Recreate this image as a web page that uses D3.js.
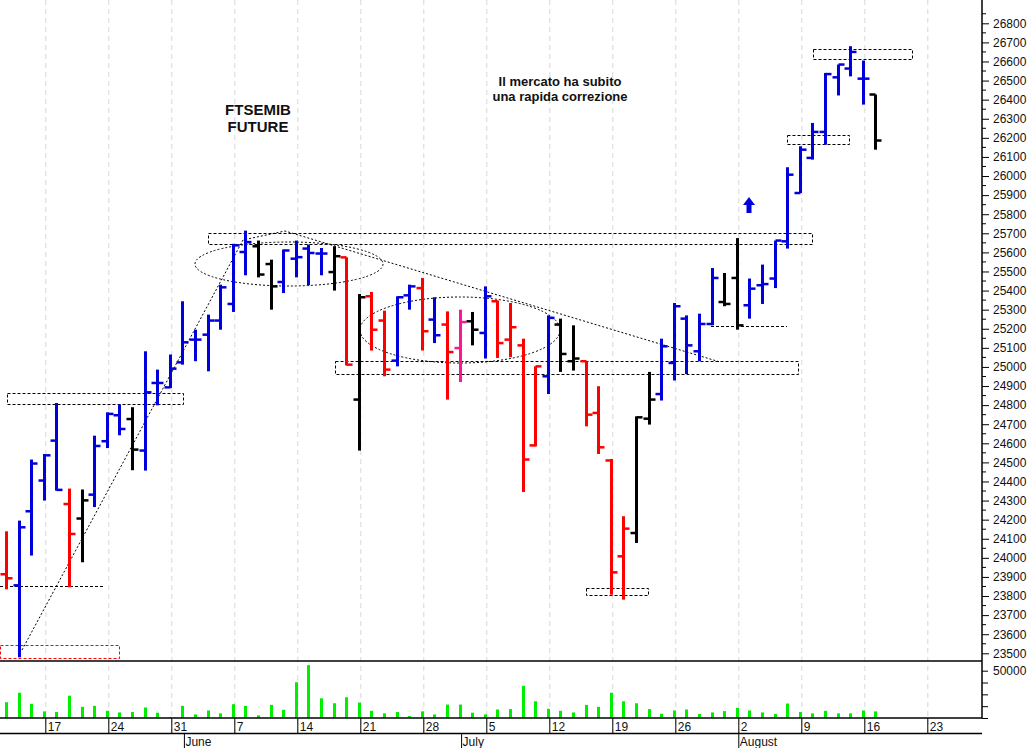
<!DOCTYPE html>
<html><head><meta charset="utf-8">
<script src="https://cdn.jsdelivr.net/npm/d3@7/dist/d3.min.js"></script>
<style>body{margin:0;background:#fff}svg{display:block}</style>
</head><body>
<svg id="c" width="1030" height="748"></svg>
<script>
const opens  = [23914,23856,24244,24405,24614,24282,24206,24331,24611,24747,24727,24562,24916,24893,25024,25143,25169,25243,25330,25602,25632,25539,25445,25567,25620,25594,25497,25574,24829,25370,25243,25033,25375,25413,25248,25222,25099,25239,25178,25344,25143,25113,24589,24951,25222,25030,25030,24759,24510,24008,24130,24729,24858,25021,25253,25082,25225,25340,25466,25323,25428,25463,25658,25911,26095,26231,26517,26563,26510,26427];
const highs  = [24139,24195,24515,24544,24811,24363,24358,24640,24762,24803,24789,25082,24986,25065,25344,25195,25274,25431,25645,25714,25662,25562,25615,25662,25641,25623,25632,25574,25382,25393,25295,25370,25431,25466,25365,25291,25300,25288,25422,25348,25335,25148,25003,25270,25253,25218,25030,24899,24518,24218,24741,24974,25148,25335,25270,25279,25518,25492,25675,25463,25536,25662,26046,26156,26278,26540,26584,26680,26605,26427];
const lows   = [23835,23479,24012,24300,24352,23846,23977,24266,24575,24642,24459,24457,24799,24890,25012,25030,24977,25195,25288,25480,25469,25300,25387,25469,25428,25480,25400,25008,24562,25086,24951,25003,25300,25086,25125,24829,24921,25113,25044,25047,25051,24345,24584,24858,24974,24981,24689,24544,23807,23781,24078,24698,24824,24929,24963,25030,25218,25318,25195,25253,25330,25413,25620,25911,26086,26164,26422,26522,26374,26138];
const closes = [23893,24160,24494,24537,24356,24125,24301,24586,24754,24675,24567,24867,24916,24991,25129,25143,25243,25417,25637,25654,25484,25422,25610,25575,25597,25594,25580,25012,25365,25195,24986,25365,25422,25187,25166,25078,25235,25195,25370,25125,25208,24515,25003,25257,25068,25044,24750,24579,23924,24153,24736,24829,25108,25318,25113,25225,25466,25330,25218,25410,25434,25662,26007,26138,26231,26534,26584,26650,26510,26186];
const signals = ["down","up","up","up","up","down","neutral","up","up","up","neutral",
  "up","up","up","up","up","up","up","up","up","neutral","neutral","up","up","up","up",
  "neutral","down","neutral","down","down","up","up","down","up","down","pink","neutral","up",
  "down","down","down","down","up","neutral","neutral","down","down","down","down",
  "neutral","neutral","up","up","up","up","up","neutral","neutral",
  "up","up","up","up","up","up","up","up","up","up","neutral"];
const volumes = [16700,26700,15000,7000,6300,23600,11800,12800,7600,5900,6300,11100,5600,700,12800,3800,8000,4900,14600,12800,2800,13900,8700,37800,55900,20800,15600,21900,16300,7600,4900,6300,2100,7000,3800,14200,14200,5600,3800,9000,9400,34000,17700,9700,7600,5900,13900,11800,26700,17700,15600,9400,4500,8000,9000,4200,5900,7300,10800,8000,5900,4200,15300,6300,4900,7600,4900,4900,8000,7000];
const weekLabels = ["17","24","31","7","14","21","28","5","12","19","26","2","9","16","23"];
const weekIdx    = [3,8,13,18,23,28,33,38,43,48,53,58,63,68,73];
const monthLabels = ["June","July","August"];
const monthIdx    = [14,36,58];
const priceTicks = d3.range(23500, 26801, 100);

const svg = d3.select("#c");
const x = d3.scaleLinear().domain([0,69]).range([6,875.4]);
const y = d3.scaleLinear().domain([23500,26800]).range([653.3,23.3]);
const yv = d3.scaleLinear().domain([0,50000]).range([718,670.7]);
const axisX = 982;
const col = {up:"#0000dd",down:"#ff0000",neutral:"#000000",pink:"#ff1493"};

svg.append("g").selectAll("line").data(weekIdx).join("line")
  .attr("x1",d=>x(d)+2).attr("x2",d=>x(d)+2).attr("y1",0).attr("y2",733)
  .attr("stroke","#d8d8d8").attr("stroke-dasharray","5,4");

const ann = svg.append("g").attr("fill","none").attr("stroke","#000").attr("stroke-width",1).attr("stroke-dasharray","3,2");
[[7,393,176,11],[208,233,604,11],[335,361,463,13],[787,135,62,9],[813,49,99,10],[586,588,62,7]].forEach(r=>
  ann.append("rect").attr("x",r[0]+.5).attr("y",r[1]+.5).attr("width",r[2]).attr("height",r[3]));
ann.append("rect").attr("x",0.5).attr("y",645.5).attr("width",119).attr("height",13).attr("stroke","#ff0000");
ann.append("line").attr("x1",0).attr("x2",105).attr("y1",586.5).attr("y2",586.5);
ann.append("line").attr("x1",711).attr("x2",787).attr("y1",326.5).attr("y2",326.5);
const dot = svg.append("g").attr("fill","none").attr("stroke","#000").attr("stroke-width",1).attr("stroke-dasharray","2,2");
dot.append("path").attr("d","M22,650 L243,240 L285,231 L720,362");
dot.append("ellipse").attr("cx",289).attr("cy",264).attr("rx",94).attr("ry",22);
dot.append("ellipse").attr("cx",460).attr("cy",330).attr("rx",100).attr("ry",33);

const bars = svg.append("g");
opens.forEach((o,i)=>{
  const c = col[signals[i]], xi = Math.round(x(i))+0.5;
  const g = bars.append("g").attr("stroke",c).attr("stroke-width",3);
  g.append("line").attr("x1",xi).attr("x2",xi).attr("y1",y(highs[i])).attr("y2",y(lows[i]));
  g.append("line").attr("x1",xi-6).attr("x2",xi).attr("y1",y(o)).attr("y2",y(o)).attr("stroke-width",2.5);
  g.append("line").attr("x1",xi).attr("x2",xi+6).attr("y1",y(closes[i])).attr("y2",y(closes[i])).attr("stroke-width",2.5);
});

svg.append("g").selectAll("rect").data(volumes).join("rect")
  .attr("x",(d,i)=>Math.round(x(i))-1).attr("width",3)
  .attr("y",d=>yv(d)).attr("height",d=>718-yv(d)).attr("fill","#00ee00");

const fr = svg.append("g").attr("stroke","#000").attr("stroke-width",1.5);
fr.append("line").attr("x1",axisX).attr("x2",axisX).attr("y1",0).attr("y2",718);
fr.append("line").attr("x1",0).attr("x2",axisX).attr("y1",661).attr("y2",661);
fr.append("line").attr("x1",0).attr("x2",axisX).attr("y1",718).attr("y2",718);
fr.append("line").attr("x1",0).attr("x2",axisX).attr("y1",733.5).attr("y2",733.5);

const ff = "Arial, Liberation Sans, sans-serif";
const pa = svg.append("g").attr("transform",`translate(${axisX},0)`)
  .call(d3.axisRight(y).tickValues(priceTicks).tickSize(7).tickFormat(d3.format("d")));
pa.select(".domain").remove();
pa.selectAll("text").attr("font-family",ff).attr("font-size",12).attr("fill","#111").attr("x",11);
svg.append("g").attr("stroke","#000").selectAll("line").data(d3.range(23550,26900,100)).join("line")
  .attr("x1",axisX).attr("x2",axisX+4).attr("y1",d=>y(d)).attr("y2",d=>y(d));
const va = svg.append("g").attr("transform",`translate(${axisX},0)`)
  .call(d3.axisRight(yv).tickValues([0,12500,25000,37500,50000]).tickSize(6).tickFormat(d=>d===50000?"50000":""));
va.select(".domain").remove();
va.selectAll("text").attr("font-family",ff).attr("font-size",12).attr("fill","#111").attr("x",11);

svg.append("g").selectAll("line").data(weekIdx).join("line")
  .attr("x1",d=>x(d)+2).attr("x2",d=>x(d)+2).attr("y1",718).attr("y2",733).attr("stroke","#000");
svg.append("g").selectAll("text").data(weekLabels).join("text")
  .attr("x",(d,i)=>x(weekIdx[i])+4).attr("y",731).text(d=>d)
  .attr("font-family",ff).attr("font-size",12).attr("fill","#111");
svg.append("g").selectAll("line").data(monthIdx).join("line")
  .attr("x1",d=>x(d)+2).attr("x2",d=>x(d)+2).attr("y1",733).attr("y2",748).attr("stroke","#000");
svg.append("g").selectAll("text").data(monthLabels).join("text")
  .attr("x",(d,i)=>x(monthIdx[i])+3).attr("y",746).text(d=>d)
  .attr("font-family",ff).attr("font-size",12).attr("fill","#111");

const tx = svg.append("g").attr("font-family",ff).attr("font-weight","bold").attr("text-anchor","middle").attr("fill","#111");
tx.append("text").attr("x",258).attr("y",115).attr("font-size",15).text("FTSEMIB");
tx.append("text").attr("x",258).attr("y",132).attr("font-size",15).text("FUTURE");
tx.append("text").attr("x",560).attr("y",86).attr("font-size",13).text("Il mercato ha subito");
tx.append("text").attr("x",560).attr("y",101).attr("font-size",13).text("una rapida correzione");
svg.append("path").attr("d","M749,197 L755,205 L751.5,205 L751.5,213 L746.5,213 L746.5,205 L743,205 Z").attr("fill","#0000dd");
</script>
</body></html>
